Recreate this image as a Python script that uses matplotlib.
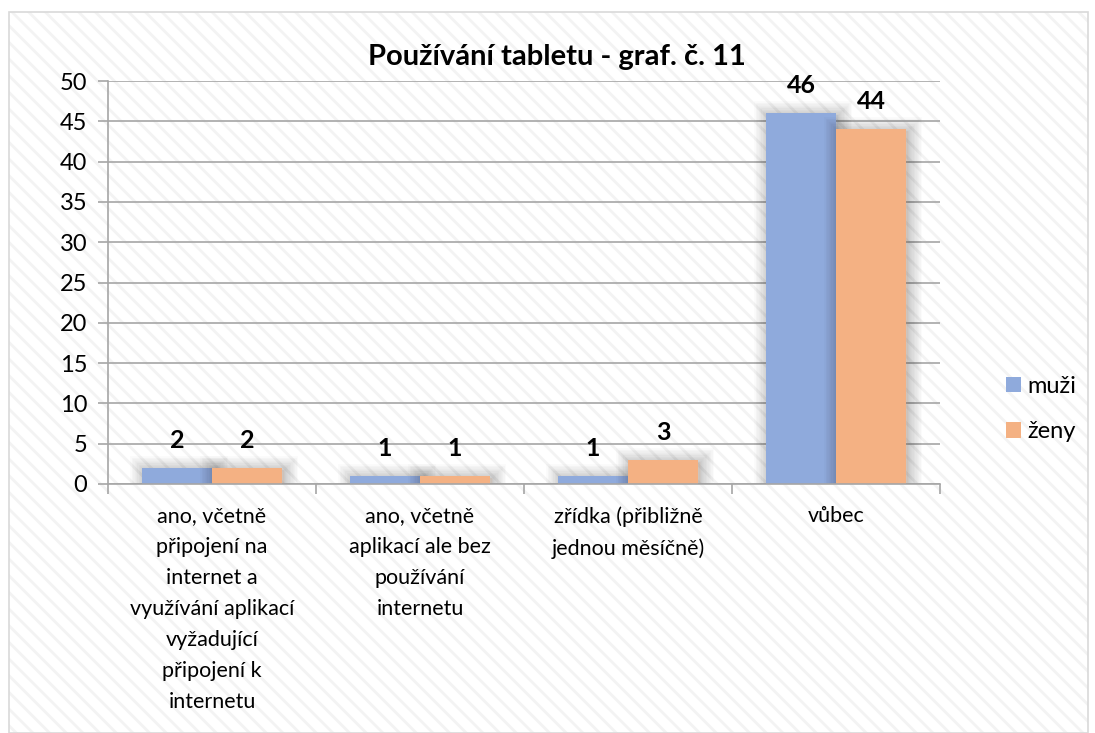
import matplotlib.pyplot as plt
import matplotlib.patheffects as pe
import numpy as np
from matplotlib.patches import Rectangle

categories = [
    "ano, včetně\npřipojení na\ninternet a\nvyužívání aplikací\nvyžadující\npřipojení k\ninternetu",
    "ano, včetně\naplikací ale bez\npoužívání\ninternetu",
    "zřídka (přibližně\njednou měsíčně)",
    "vůbec",
]
muzi = [2, 1, 1, 46]
zeny = [2, 1, 3, 44]
series_names = ["muži", "ženy"]
title = "Používání tabletu - graf. č. 11"

plt.rcParams["font.family"] = ["Lato", "DejaVu Sans"]
plt.rcParams["hatch.linewidth"] = 2.0

W, H = 1095, 733
fig = plt.figure(figsize=(W / 100, H / 100), dpi=100)

# chart area: light diagonal stripes + thin gray border
stripes = Rectangle((9 / W, 0), 1079 / W, 1 - 12 / H, transform=fig.transFigure,
                    facecolor="white", edgecolor="#f3f3f3", hatch="\\\\", linewidth=0, zorder=-10)
border = Rectangle((9 / W, 0), 1079 / W, 1 - 12 / H, transform=fig.transFigure,
                   facecolor="none", edgecolor="#d9d9d9", linewidth=1.2, zorder=-9)
fig.patches.extend([stripes, border])

ax = fig.add_axes([108 / W, 1 - 484 / H, 832 / W, 403 / H])
ax.set_facecolor("none")

# soft shadow around bars
shadow = [pe.Stroke(linewidth=lw, foreground="black", alpha=0.018, offset=(1.5, -1.5))
          for lw in range(2, 22, 2)] + [pe.Normal()]

x = np.arange(len(categories))
w = 0.336
b1 = ax.bar(x - w / 2, muzi, w, color="#8faadc", label=series_names[0], zorder=3)
b2 = ax.bar(x + w / 2, zeny, w, color="#f4b183", label=series_names[1], zorder=3)

# legend first, so its handles don't pick up the shadow
leg = fig.legend(handles=[b1, b2], labels=series_names, loc="center left",
                 bbox_to_anchor=(1006 / W, 1 - 409 / H), frameon=False, fontsize=17, borderpad=0,
                 borderaxespad=0, handlelength=0.64, handleheight=0.64, handletextpad=0.25,
                 labelspacing=1.05)

for bar in list(b1) + list(b2):
    bar.set_path_effects(shadow)

# data labels
for bars in (b1, b2):
    for bar in bars:
        ax.annotate(str(int(bar.get_height())),
                    (bar.get_x() + bar.get_width() / 2, bar.get_height()),
                    xytext=(0, 20), textcoords="offset pixels",
                    ha="center", va="baseline", fontsize=18, fontweight="bold", zorder=5)

ax.set_xlim(-0.5, len(categories) - 0.5)
ax.set_ylim(0, 50)
ax.set_yticks(range(0, 51, 5))
ax.yaxis.grid(True, color="#a6a6a6", linewidth=1.2, zorder=0)
ax.set_axisbelow(True)

ax.set_xticks(np.arange(-0.5, len(categories), 1))
ax.set_xticklabels([])
ax.set_xticks(x, minor=True)
ax.set_xticklabels(categories, minor=True, fontsize=15.5, linespacing=1.68, va="top")
ax.tick_params(axis="x", which="minor", length=0, pad=16)
ax.tick_params(axis="x", which="major", length=7, color="#a6a6a6", width=1.2)
ax.tick_params(axis="y", length=7, color="#a6a6a6", width=1.2, labelsize=17, pad=8)

for side in ["top", "right"]:
    ax.spines[side].set_visible(False)
for side in ["left", "bottom"]:
    ax.spines[side].set_color("#a6a6a6")
    ax.spines[side].set_linewidth(1.2)
    ax.spines[side].set_zorder(4)

fig.text(557 / W, 1 - 65 / H, title, ha="center", va="baseline", fontsize=21, fontweight="bold")

fig.savefig("out.png", dpi=100)
